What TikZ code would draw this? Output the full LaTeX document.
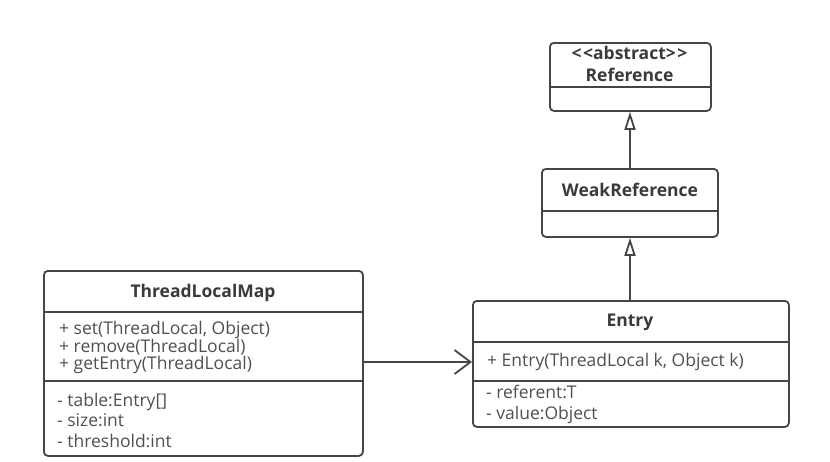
\documentclass[tikz,border=0pt]{standalone}
\usepackage{fontspec}
\setmainfont{Open Sans}
\usetikzlibrary{arrows.meta}
\definecolor{lc}{HTML}{454545}
\definecolor{tc}{HTML}{3A3A3A}
\definecolor{bc}{HTML}{505050}
\tikzset{
  x=1pt, y=-1pt,
  umlbox/.style={draw=lc, line width=1.8pt, rounded corners=4pt, fill=white, anchor=north west, inner sep=0pt},
  divider/.style={draw=lc, line width=1.8pt},
  title/.style={font=\fontsize{17.5}{19}\selectfont\bfseries, text=tc, inner sep=0pt},
  member/.style={font=\fontsize{17.5}{15.3}\selectfont, text=bc, inner sep=0pt, anchor=west, align=left},
  inherit/.style={draw=lc, line width=1.8pt, -{Triangle[open, length=18pt, width=11pt, fill=white]}},
  assoc/.style={draw=lc, line width=1.8pt, -{Straight Barb[length=16pt, width=24pt, line width=1.8pt]}}
}
\begin{document}
\begin{tikzpicture}
\useasboundingbox (0,0) rectangle (830,461);
% Reference
\node[umlbox, minimum width=161pt, minimum height=68pt] (ref) at (549,42) {};
\draw[divider] (549,87) -- (710,87);
\node[title] (refst) at (629.5,53) {<\kern1.5pt<abstract>\kern1.5pt>};
\node[title] (refname) at (629.5,75) {Reference};
% WeakReference
\node[umlbox, minimum width=176pt, minimum height=68pt] (weak) at (541,168) {};
\draw[divider] (541,211) -- (717,211);
\node[title] (weakname) at (630,190) {WeakReference};
% Entry
\node[umlbox, minimum width=316pt, minimum height=126pt] (entry) at (472,300) {};
\draw[divider] (472,342) -- (788,342);
\draw[divider] (472,381) -- (788,381);
\node[title] (entryname) at (630,322) {Entry};
\node[member] (emeth) at (487,362) {+ Entry(ThreadLocal k, Object k)};
\node[member, font=\fontsize{17.5}{21}\selectfont] (eattr) at (486,404) {- referent:T\\- value:Object};
% ThreadLocalMap
\node[umlbox, minimum width=319pt, minimum height=185pt] (tlm) at (43,270) {};
\draw[divider] (43,312) -- (362,312);
\draw[divider] (43,381) -- (362,381);
\node[title] (tlmname) at (203,293) {ThreadLocalMap};
\node[member] (tmeth) at (59,347.5) {+ set(ThreadLocal, Object)\\+ remove(ThreadLocal)\\+ getEntry(ThreadLocal)};
\node[member, font=\fontsize{17.5}{20.5}\selectfont] (tattr) at (57,420) {- table:Entry[]\\- size:int\\- threshold:int};
% connectors
\draw[inherit] (weak.north -| 630,0) -- (ref.south -| 630,0);
\draw[inherit] (entry.north -| 630,0) -- (weak.south -| 630,0);
\draw[assoc] (tlm.east |- 0,362) -- (entry.west |- 0,362);
\end{tikzpicture}
\end{document}
